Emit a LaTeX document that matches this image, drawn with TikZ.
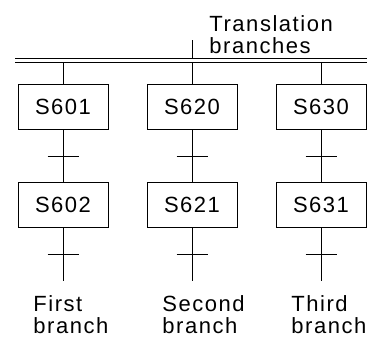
\documentclass[tikz,border=0pt]{standalone}
\usepackage{fontspec}
\setmainfont[LetterSpace=7]{Liberation Sans}
\usetikzlibrary{positioning}
\begin{document}
\begin{tikzpicture}[x=1pt,y=-1pt,line width=0.9pt,
  font=\fontsize{22}{22}\selectfont,
  stepbox/.style={draw,minimum width=90pt,minimum height=45pt,inner sep=0pt},
  lbl/.style={align=left,anchor=north west,inner sep=0pt}]
\useasboundingbox (0,0) rectangle (378,338);
% double line of the translation branches
\coordinate (busL) at (15,58.5);
\coordinate (busR) at (367,58.5);
\draw (busL)--(busR);
\draw ([yshift=-3.5pt]busL)--([yshift=-3.5pt]busR);
\coordinate (top) at (192,40);
\coordinate (topbus) at (192,58.5);
\draw (top)--(topbus);
\node[lbl] (trans) at (209,15) {Translation\\branches};
\foreach \x/\a/\b/\name [count=\i] in {63/601/602/First,192/620/621/Second,321/630/631/Third} {
  \coordinate (bus\i) at (\x,62);
  \node[stepbox] (s\a) at (\x,106.5) {S\a};
  \node[stepbox] (s\b) at (\x,205) {S\b};
  \coordinate (t\a) at (\x,156);
  \coordinate (t\b) at (\x,254);
  \coordinate (end\i) at (\x,281);
  \draw (bus\i)--(s\a)--(s\b)--(end\i);
  \draw ([xshift=-15.5pt]t\a)--([xshift=15.5pt]t\a);
  \draw ([xshift=-15.5pt]t\b)--([xshift=15.5pt]t\b);
  \node[lbl] (name\i) at (\x-30,295) {\name\\branch};
}
\end{tikzpicture}
\end{document}
